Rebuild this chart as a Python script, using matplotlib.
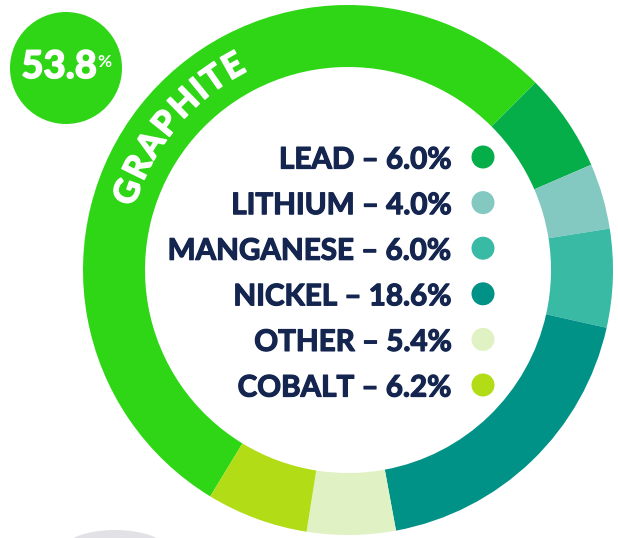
import matplotlib
matplotlib.use("Agg")
import matplotlib.pyplot as plt
import matplotlib.patheffects as pe
from matplotlib.patches import Circle, Ellipse
from matplotlib.font_manager import FontProperties
import numpy as np

# Share of each material (%), clockwise from the graphite wedge
materials = ["GRAPHITE", "LEAD", "LITHIUM", "MANGANESE", "NICKEL", "OTHER", "COBALT"]
shares = [53.8, 6.0, 4.0, 6.0, 18.6, 5.4, 6.2]
colors = ["#2ed616", "#06ae4a", "#84c8c2", "#38baa5", "#009187", "#e0f2c4", "#b2dc16"]

# Legend rows (everything except graphite)
legend_names = materials[1:]
legend_values = shares[1:]
legend_colors = colors[1:]

navy = "#14254f"
font = "Lato"

W, H = 618, 538
fig = plt.figure(figsize=(W / 100, H / 100), dpi=100)
ax = fig.add_axes([0, 0, 1, 1])

# donut, in pixel units
cx, cy = 348, H - 270
r_out, r_in = 265, 203
ax.pie(shares, colors=colors, startangle=45 + shares[0] * 3.6, counterclock=False,
       center=(cx, cy), radius=r_out,
       wedgeprops=dict(width=r_out - r_in, linewidth=0))

def bold(c, w=0.9):
    return [pe.withStroke(linewidth=w, foreground=c)]

# curved GRAPHITE label
renderer = fig.canvas.get_renderer()
prop = FontProperties(family=font, weight="bold", size=24.5)
widths = [renderer.get_text_width_height_descent(ch, prop, ismath=False)[0] * 1.1
          for ch in materials[0]]
r_base = (r_out + r_in) / 2 - 11
mid_angle = np.radians(140.3)
theta0 = mid_angle + sum(widths) / 2 / r_base
s = 0
for ch, w in zip(materials[0], widths):
    th = theta0 - (s + w / 2) / r_base
    ax.text(cx + r_base * np.cos(th), cy + r_base * np.sin(th), ch,
            rotation=np.degrees(th) - 90, rotation_mode="anchor",
            ha="center", va="baseline", color="white",
            fontproperties=prop, path_effects=bold("white", 1.2))
    s += w

# legend inside the ring
row_y = H - 157 - 45.6 * np.arange(len(legend_names))
for name, val, col, y in zip(legend_names, legend_values, legend_colors, row_y):
    ax.text(452, y, f"{name} \u2013 {val:.1f}%", ha="right", va="center_baseline",
            fontsize=21.3, family=font, weight="bold", color=navy,
            path_effects=bold(navy))
    ax.add_patch(Circle((483, y), 11.5, color=col, lw=0))

# big percentage badge
ax.add_patch(Circle((66, H - 68), 56, color=colors[0], lw=0))
ax.text(97, H - 64, f"{shares[0]:.1f}", ha="right", va="center_baseline",
        fontsize=27.5, family=font, weight="bold", color="white",
        path_effects=bold("white", 1.2))
ax.text(97.5, H - 67, "%", ha="left", va="baseline",
        fontsize=12.5, family=font, weight="bold", color="white")

# cut-off grey shape at the bottom edge
ax.add_patch(Ellipse((115, H - 550), 104, 40, color="#e2e2e6", lw=0))

ax.set_xlim(0, W)
ax.set_ylim(0, H)
ax.set_aspect("auto")
ax.axis("off")

fig.savefig("out.png", dpi=100)
